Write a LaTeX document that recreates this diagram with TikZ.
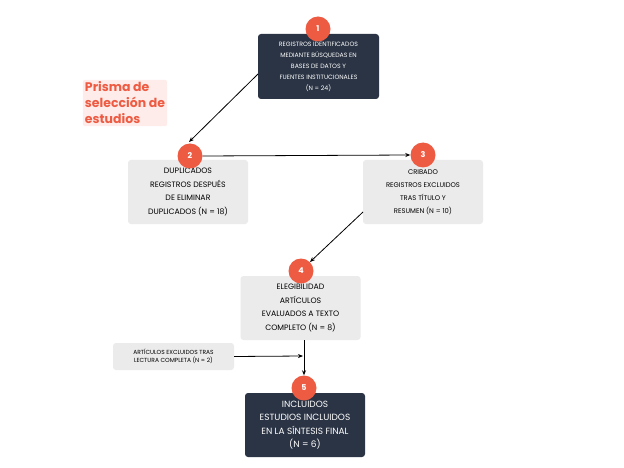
\documentclass[tikz,border=0pt]{standalone}
\usepackage{fontspec}
\usetikzlibrary{arrows.meta}
\setmainfont{Poppins}
\definecolor{navy}{HTML}{2B3444}
\definecolor{lgray}{HTML}{EBEBEC}
\definecolor{coral}{HTML}{EE5B43}
\definecolor{pinkbg}{HTML}{FDECE9}
\tikzset{
  darkbox/.style={rectangle,rounded corners=3pt,fill=navy,text=white,align=center,minimum width=121pt,minimum height=65pt,inner sep=2pt},
  graybox/.style={rectangle,rounded corners=3pt,fill=lgray,text=black,align=center,minimum width=120pt,minimum height=64pt,inner sep=2pt},
  num/.style={circle,fill=coral,text=white,minimum size=25pt,inner sep=0pt,font=\fontsize{8}{9}\selectfont\bfseries},
  arr/.style={-{Stealth[length=5pt,width=4pt]},line width=0.8pt,black}
}
\begin{document}
\begin{tikzpicture}[x=1pt,y=-1pt]
\useasboundingbox (0,0) rectangle (624,468);
\fill[white] (0,0) rectangle (624,468);
\node[darkbox,font=\fontsize{6.2}{11}\selectfont] (b1) at (318.5,66.5) {REGISTROS IDENTIFICADOS\\MEDIANTE BÚSQUEDAS EN\\BASES DE DATOS Y\\FUENTES INSTITUCIONALES\\(N = 24)};
\node[num] (c1) at (318,29) {1};
\node[graybox,font=\fontsize{7.8}{13.5}\selectfont] (b2) at (188,192) {DUPLICADOS\\REGISTROS DESPUÉS\\DE ELIMINAR\\DUPLICADOS (N = 18)};
\node[num] (c2) at (190,156) {2};
\node[graybox,font=\fontsize{6.8}{13}\selectfont] (b3) at (423,192) {CRIBADO\\REGISTROS EXCLUIDOS\\TRAS TÍTULO Y\\RESUMEN (N = 10)};
\node[num] (c3) at (423,155) {3};
\node[graybox,font=\fontsize{7.8}{13.5}\selectfont] (b4) at (300.5,308) {ELEGIBILIDAD\\ARTÍCULOS\\EVALUADOS A TEXTO\\COMPLETO (N = 8)};
\node[num] (c4) at (301,271) {4};
\node[darkbox,minimum width=120pt,minimum height=64pt,font=\fontsize{9}{13.5}\selectfont] (b5) at (305,425) {INCLUIDOS\\ESTUDIOS INCLUIDOS\\EN LA SÍNTESIS FINAL\\(N = 6)};
\node[num] (c5) at (304,388) {5};
\node[graybox,minimum width=121pt,minimum height=27pt,font=\fontsize{5.9}{8}\selectfont] (bx) at (173.5,356.5) {ARTÍCULOS EXCLUIDOS TRAS\\LECTURA COMPLETA (N = 2)};
\node[fill=pinkbg,rounded corners=2pt,text=coral,align=left,inner sep=2pt,font=\fontsize{12.5}{16}\selectfont\bfseries] (title) at (125,103) {Prisma de\\selección de\\estudios};
\coordinate (a1) at (258,74);
\coordinate (a2) at (189,142);
\draw[arr] (a1) -- (a2);
\draw[arr] (c2.east) -- (c3.west);
\coordinate (a3) at (363,212);
\draw[arr] (a3) -- (c4.north east);
\draw[arr] (b4.south -| c5) -- (c5.north);
\coordinate (a5) at (303,356);
\draw[arr] (bx.east) -- (a5);
\end{tikzpicture}
\end{document}
